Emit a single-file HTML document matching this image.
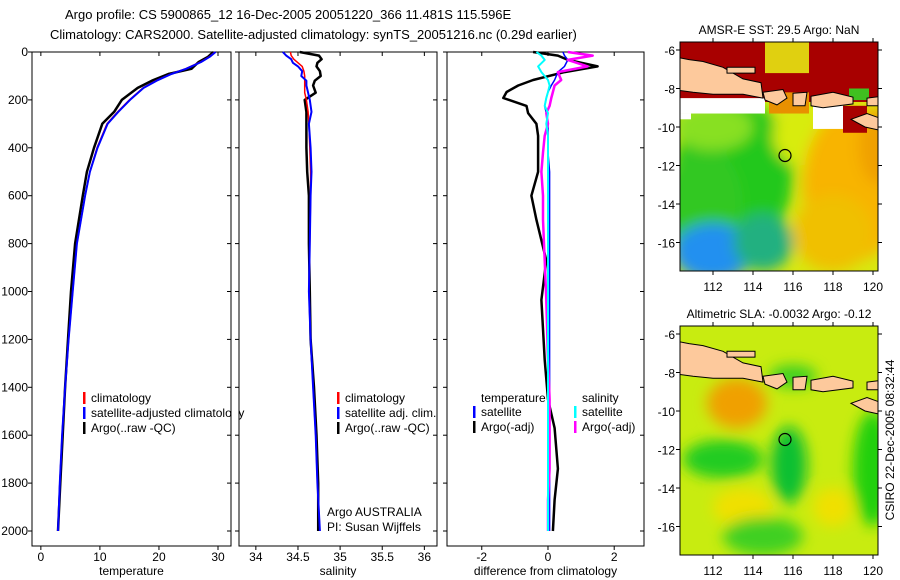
<!DOCTYPE html>
<html><head><meta charset="utf-8"><style>
body{margin:0;background:#fff;}
svg{display:block;font-family:"Liberation Sans",sans-serif;}
text{font-size:12px;fill:#000;}
</style></head><body>
<svg id="fig" width="900" height="580" viewBox="0 0 900 580" xmlns="http://www.w3.org/2000/svg">
<text x="65" y="19" style="font-size:13px">Argo profile: CS 5900865_12 16-Dec-2005 20051220_366 11.481S 115.596E</text>
<text x="50" y="39" style="font-size:13px">Climatology: CARS2000. Satellite-adjusted climatology: synTS_20051216.nc (0.29d earlier)</text>
<g id="charts"></g>
<g id="maps"></g>
<text transform="translate(894,440) rotate(-90)" text-anchor="middle">CSIRO 22-Dec-2005 08:32:44</text>
</svg>
<script>
// ---- profile data ----
const depthT = [0,20,42,70,92,120,150,200,250,300,400,500,600,800,1000,1200,1400,1600,1800,2000];
const tempClim = [29.5,28.5,27,24.5,22,19.5,17.3,15,13,11.2,9.5,8.3,7.5,6.1,5.4,4.7,4.1,3.6,3.2,2.9];
const tempSat  = [29.6,28.6,27.1,24.6,22.1,19.6,17.4,15.1,13.1,11.3,9.6,8.3,7.5,6.1,5.4,4.7,4.1,3.6,3.2,2.9];
const tempArgo = [29.2,28.3,26.7,25.5,21.6,18.8,16.4,13.7,12.4,10.4,9.0,7.8,7.1,5.8,5.1,4.6,4.1,3.7,3.3,2.9];
const depthS = [0,15,30,45,60,80,100,120,140,170,200,250,300,400,500,600,800,1000,1200,1400,1600,1800,2000];
const salClim = [34.41,34.42,34.45,34.5,34.55,34.57,34.58,34.58,34.58,34.58,34.6,34.62,34.63,34.64,34.65,34.65,34.64,34.63,34.65,34.68,34.71,34.73,34.76];
const salSat  = [34.32,34.36,34.42,34.44,34.5,34.55,34.54,34.6,34.6,34.62,34.64,34.66,34.63,34.65,34.66,34.65,34.64,34.63,34.65,34.68,34.71,34.73,34.76];
const salArgo = [34.52,34.75,34.78,34.73,34.72,34.76,34.77,34.7,34.68,34.71,34.58,34.6,34.6,34.6,34.61,34.63,34.63,34.64,34.65,34.69,34.72,34.74,34.74];
const depthD = [0,15,33,60,84,117,140,167,192,225,255,300,350,420,500,600,700,870,1035,1285,1450,1570,1740,1870,2000];
const dTempArgo = [-0.45,0.3,0.6,1.5,0.5,-0.45,-0.9,-1.25,-1.35,-0.65,-0.6,-0.35,-0.3,-0.3,-0.3,-0.5,-0.35,-0.05,-0.2,-0.1,0,0.2,0.3,0.2,0.15];
const dTempSat  = [0.45,0.5,0.6,0.5,0.3,0.2,0.1,0,-0.05,-0.1,-0.05,0,0,0,0.05,0.05,0.05,0.05,0.05,0.05,0.05,0.05,0.05,0.05,0.05];
const dSalSat   = [-0.35,-0.2,-0.1,-0.3,-0.2,0,0.05,0,-0.05,-0.1,0,-0.05,0,0,0,0,0,0,0,0,0,0,0,0,0];
const dSalArgo  = [0.6,1.35,0.6,1.2,0.3,0.4,0.2,0.15,0.1,0.05,-0.05,0,-0.1,-0.15,-0.2,-0.15,-0.15,-0.1,-0.05,0,0.05,0.05,0.05,0,0];
const depthTicks = [0,200,400,600,800,1000,1200,1400,1600,1800,2000];
const tTicks = [0,10,20,30];
const sTicks = [34,34.5,35,35.5,36];
const dTicks = [-2,0,2];

const NS="http://www.w3.org/2000/svg";
function mk(tag,attrs,parent){const e=document.createElementNS(NS,tag);for(const k in attrs)e.setAttribute(k,attrs[k]);parent.appendChild(e);return e;}
const charts=document.getElementById('charts');
const yTop=52,yBot=546;
const yDepth=d=>52+d*0.2395;

function panel(name,x0,x1,vmin,vmax,ticks,label,showDepth){
  const g=mk('g',{},charts);
  
  
  const xs=v=>x0+(v-vmin)/(vmax-vmin)*(x1-x0);
  const fr=mk('rect',{x:x0,y:yTop,width:x1-x0,height:yBot-yTop,fill:'none',stroke:'#000','stroke-width':1},g);
  
  
  ticks.forEach(t=>{
    const x=xs(t);
    mk('line',{x1:x,x2:x,y1:yBot,y2:yBot+4,stroke:'#000'},g);
    mk('line',{x1:x,x2:x,y1:yTop,y2:yTop+4,stroke:'#000'},g);
    const tl=mk('text',{x:x,y:yBot+15,'text-anchor':'middle'},g);tl.textContent=String(t);
    
    
  });
  depthTicks.forEach(d=>{
    const y=yDepth(d);
    mk('line',{x1:x0,x2:x0-4,y1:y,y2:y,stroke:'#000'},g);
    mk('line',{x1:x1,x2:x1-4,y1:y,y2:y,stroke:'#000'},g);
    if(showDepth){const tl=mk('text',{x:x0-4,y:y+4,'text-anchor':'end'},g);tl.textContent=String(d);
      
      }
  });
  const lb=mk('text',{x:(x0+x1)/2,y:575,'text-anchor':'middle'},g);lb.textContent=label;
  
  
  return {g,xs};
}
function series(p,depths,vals,color,w,name){
  const pts=depths.map((d,i)=>p.xs(vals[i]).toFixed(1)+','+yDepth(d).toFixed(1)).join(' ');
  const l=mk('polyline',{points:pts,fill:'none',stroke:color,'stroke-width':w,'stroke-linejoin':'round'},p.g);
  
  
}
function legend(g,x,y,color,txt,name){
  if(color)mk('rect',{x:x,y:y-10,width:2.5,height:12,fill:color},g);
  const t=mk('text',{x:x+8,y:y},g);t.textContent=txt;
  
  
}
const p1=panel('temperature-panel',32,231,-1.5,32.2,tTicks,'temperature',true);
series(p1,depthT,tempArgo,'#000',2.5,'argo-temperature-line');
series(p1,depthT,tempClim,'#f00',1.5,'climatology-temperature-line');
series(p1,depthT,tempSat,'#00f',2,'satellite-temperature-line');
legend(p1.g,83,402,'#f00','climatology','legend-climatology');
legend(p1.g,83,417,'#00f','satellite-adjusted climatology','legend-satellite-adjusted');
legend(p1.g,83,432,'#000','Argo(..raw -QC)','legend-argo');
mk('rect',{x:231.5,y:390,width:7,height:50,fill:'#fff'},p1.g);

const p2=panel('salinity-panel',239,437,33.8,36.15,sTicks,'salinity',false);
series(p2,depthS,salArgo,'#000',2.5,'argo-salinity-line');
series(p2,depthS,salClim,'#f00',1.5,'climatology-salinity-line');
series(p2,depthS,salSat,'#00f',2,'satellite-salinity-line');
legend(p2.g,337,402,'#f00','climatology','legend-climatology');
legend(p2.g,337,417,'#00f','satellite adj. clim.','legend-satellite');
legend(p2.g,337,432,'#000','Argo(..raw -QC)','legend-argo');
legend(p2.g,319,516,null,'Argo AUSTRALIA','argo-australia-note');
legend(p2.g,319,531,null,'PI: Susan Wijffels','pi-note');

const p3=panel('difference-panel',447,644,-3.05,2.9,dTicks,'difference from climatology',false);
series(p3,depthD,dTempArgo,'#000',2.5,'argo-temperature-diff-line');
series(p3,depthD,dTempSat,'#00f',1.5,'satellite-temperature-diff-line');
series(p3,depthD,dSalArgo,'#f0f',2.5,'argo-salinity-diff-line');
series(p3,depthD,dSalSat,'#0ff',2,'satellite-salinity-diff-line');
legend(p3.g,473,402,null,'temperature','legend-temperature-header');
legend(p3.g,473,416,'#00f','satellite','legend-temp-satellite');
legend(p3.g,473,431,'#000','Argo(-adj)','legend-temp-argo');
legend(p3.g,574,402,null,'salinity','legend-salinity-header');
legend(p3.g,574,416,'#0ff','satellite','legend-sal-satellite');
legend(p3.g,574,431,'#f0f','Argo(-adj)','legend-sal-argo');

// ---- maps ----
const maps=document.getElementById('maps');
const lonTicks=[112,114,116,118,120];
const latTicks=[-6,-8,-10,-12,-14,-16];
function map(name,top,title,blobs,bg,topStrip){
  const x0=680,x1=878,h=229,y0=top,y1=top+h;
  const lx=lon=>713+(lon-112)*20;
  const ly=lat=>y0+8+(-6-lat)*19.25;
  const g=mk('g',{},maps);
  
  
  const cid='clip'+top;
  const cp=mk('clipPath',{id:cid},g);mk('rect',{x:x0,y:y0,width:x1-x0,height:h},cp);
  const inner=mk('g',{'clip-path':'url(#'+cid+')'},g);
  mk('rect',{x:x0,y:y0,width:x1-x0,height:h,fill:bg},inner);
  const fid='blur'+top;
  const f=mk('filter',{id:fid,x:'-50%',y:'-50%',width:'200%',height:'200%'},g);mk('feGaussianBlur',{stdDeviation:7},f);
  const bg2=mk('g',{filter:'url(#'+fid+')'},inner);
  blobs.forEach(b=>mk('ellipse',{cx:lx(b[0]),cy:ly(b[1]),rx:b[2]*20,ry:b[3]*19.25,fill:b[4]},bg2));
  if(topStrip)topStrip(inner,lx,ly);
  const land=[
    [[110.3,-6.4],[110.8,-6.5],[111.5,-6.6],[112.5,-6.9],[113.5,-7.5],[114.4,-7.7],[114.5,-8.5],[113.5,-8.3],[112,-8.3],[111,-8.2],[110.3,-8.1]],
    [[112.7,-6.9],[114.1,-6.9],[114.1,-7.2],[112.7,-7.2]],
    [[114.5,-8.2],[115.5,-8.05],[115.7,-8.5],[115.2,-8.85],[114.6,-8.6]],
    [[116.0,-8.25],[116.7,-8.2],[116.6,-8.9],[116.0,-8.9]],
    [[116.9,-8.4],[118,-8.2],[119,-8.45],[119,-8.8],[117.5,-9.0],[116.9,-8.9]],
    [[119.7,-8.5],[120.9,-8.35],[120.9,-8.9],[119.7,-8.9]],
    [[118.9,-9.6],[119.7,-9.3],[120.5,-9.6],[120.9,-10.0],[120.9,-10.3],[119.6,-10.0]]
  ];
  land.forEach(poly=>{
    const pg=mk('polygon',{points:poly.map(p=>lx(p[0]).toFixed(1)+','+ly(p[1]).toFixed(1)).join(' '),fill:'#fdc99c',stroke:'#000','stroke-width':1},inner);
    
    
  });
  const c=mk('circle',{cx:lx(115.6),cy:ly(-11.48),r:6,fill:'none',stroke:'#000','stroke-width':1.2},g);
  
  
  mk('rect',{x:x0,y:y0,width:x1-x0,height:h,fill:'none',stroke:'#000'},g);
  lonTicks.forEach(l=>{const x=lx(l);mk('line',{x1:x,x2:x,y1:y1,y2:y1+4,stroke:'#000'},g);mk('line',{x1:x,x2:x,y1:y0,y2:y0-4,stroke:'#000'},g);
    const t=mk('text',{x:x,y:y1+20,'text-anchor':'middle'},g);t.textContent=String(l);
    
    });
  latTicks.forEach(l=>{const y=ly(l);mk('line',{x1:x0,x2:x0-4,y1:y,y2:y,stroke:'#000'},g);mk('line',{x1:x1,x2:x1+4,y1:y,y2:y,stroke:'#000'},g);
    const t=mk('text',{x:x0-5,y:y+5,'text-anchor':'end'},g);t.textContent=String(l);
    
    });
  const tt=mk('text',{x:(x0+x1)/2,y:y0-8,'text-anchor':'middle'},g);tt.textContent=title;
  
  
}
map('sst-map',42,'AMSR-E SST: 29.5 Argo: NaN',[
  [113,-12.5,3,4,'#22c81a'],[111.5,-14,2,3,'#33c822'],[112,-16.5,2,1.5,'#2090f0'],[114.5,-16,1.5,1.5,'#20b080'],
  [112,-10,2,1.2,'#88e020'],[116.5,-10.5,1.5,1.5,'#d8ec10'],[119,-13,2.5,4,'#f8b400'],[118,-15.5,2,2,'#f0c000'],[120.3,-11,1,2,'#f0a000']
],'#d8e810',(g,lx,ly)=>{
  mk('rect',{x:lx(110.3),y:ly(-5.5),width:lx(121)-lx(110.3),height:ly(-8.7)-ly(-5.5),fill:'#a80000'},g);
  mk('rect',{x:lx(114.6),y:ly(-5.5),width:lx(116.8)-lx(114.6),height:ly(-7.2)-ly(-5.5),fill:'#e0d010'},g);
  mk('rect',{x:lx(114.8),y:ly(-8.2),width:lx(116.8)-lx(114.8),height:ly(-9.3)-ly(-8.2),fill:'#e89000'},g);
  mk('rect',{x:lx(118.8),y:ly(-8.0),width:lx(119.8)-lx(118.8),height:ly(-8.6)-ly(-8.0),fill:'#40c020'},g);
  mk('rect',{x:lx(110.3),y:ly(-8.5),width:lx(114.6)-lx(110.3),height:ly(-9.3)-ly(-8.5),fill:'#fff'},g);
  mk('rect',{x:lx(110.3),y:ly(-9.3),width:lx(110.9)-lx(110.3),height:ly(-9.6)-ly(-9.3),fill:'#fff'},g);
  mk('rect',{x:lx(117),y:ly(-8.8),width:lx(118.5)-lx(117),height:ly(-10.1)-ly(-8.8),fill:'#fff'},g);
  mk('rect',{x:lx(118.5),y:ly(-8.9),width:lx(119.7)-lx(118.5),height:ly(-10.3)-ly(-8.9),fill:'#a80000'},g);
});
map('sla-map',326,'Altimetric SLA: -0.0032 Argo: -0.12',[
  [113.2,-9.6,1.5,1.3,'#f0a000'],[112.5,-12.5,2,1,'#22cc22'],[115.8,-12.8,0.9,2,'#10c030'],[120,-13,1,3,'#22d010'],
  [113.5,-15,1.5,1,'#f0e000'],[118,-15,1,1,'#f0e000'],[114.5,-16.5,2,1,'#40d020'],[116,-8.2,1.2,0.6,'#40d020']
],'#c8ec10',null);
</script>
</body></html>
